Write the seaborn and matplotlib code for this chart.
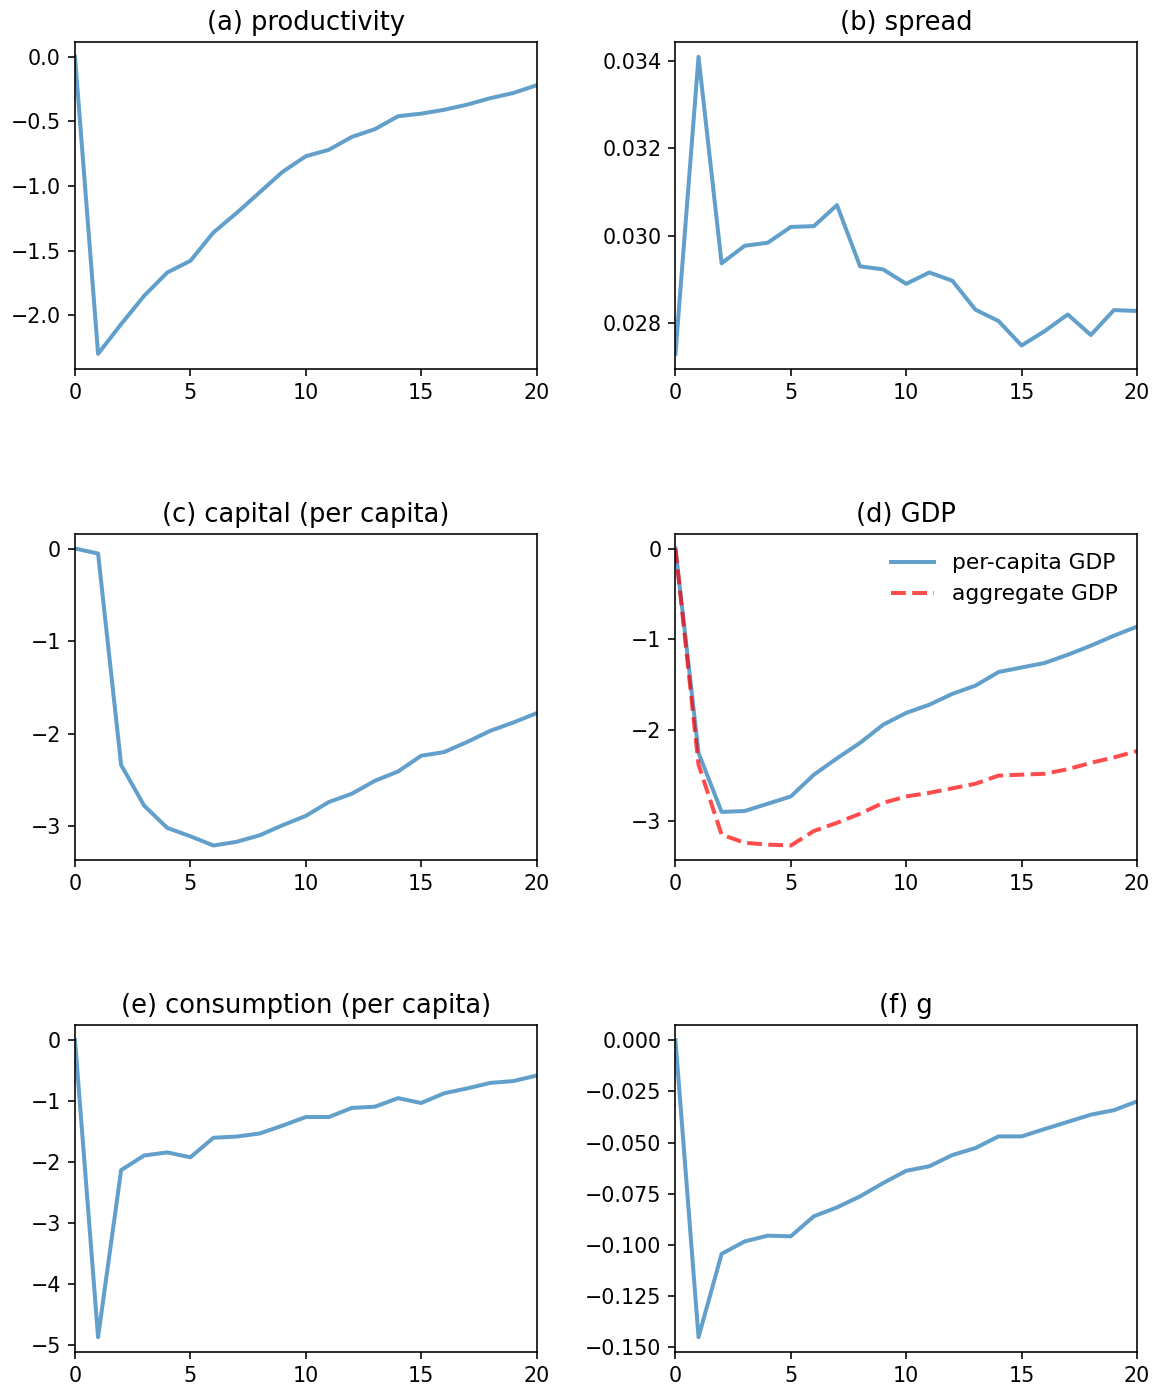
import numpy as np
import pandas as pd
import matplotlib
matplotlib.use("Agg")
import matplotlib.pyplot as plt
from matplotlib.ticker import MultipleLocator
import seaborn as sns

periods = list(range(21))

productivity = [0.0, -2.30, -2.07, -1.85, -1.67, -1.58, -1.36, -1.21, -1.05, -0.89, -0.77,
                -0.72, -0.62, -0.56, -0.46, -0.44, -0.41, -0.37, -0.32, -0.28, -0.22]
spread = [0.02730, 0.03409, 0.02937, 0.02977, 0.02984, 0.03020, 0.03022, 0.03070, 0.02930,
          0.02923, 0.02890, 0.02916, 0.02897, 0.02831, 0.02805, 0.02749, 0.02782, 0.02820,
          0.02773, 0.02830, 0.02828]
capital = [0.0, -0.054, -2.34, -2.78, -3.02, -3.11, -3.21, -3.17, -3.10, -2.99, -2.89,
           -2.74, -2.65, -2.51, -2.41, -2.24, -2.20, -2.09, -1.97, -1.88, -1.78]
gdp_per_capita = [0.0, -2.25, -2.90, -2.89, -2.81, -2.73, -2.49, -2.31, -2.14, -1.94, -1.81,
                  -1.72, -1.60, -1.51, -1.36, -1.31, -1.26, -1.17, -1.07, -0.96, -0.86]
gdp_aggregate = [0.0, -2.38, -3.15, -3.24, -3.26, -3.27, -3.11, -3.02, -2.92, -2.80, -2.73,
                 -2.69, -2.64, -2.59, -2.50, -2.49, -2.48, -2.43, -2.36, -2.30, -2.23]
consumption = [0.0, -4.87, -2.13, -1.89, -1.84, -1.92, -1.60, -1.58, -1.53, -1.40, -1.26,
               -1.26, -1.11, -1.09, -0.95, -1.03, -0.87, -0.79, -0.70, -0.67, -0.58]
g_series = [0.0, -0.1451, -0.1044, -0.0983, -0.0955, -0.0958, -0.0860, -0.0817, -0.0763,
            -0.0698, -0.0638, -0.0616, -0.0561, -0.0527, -0.0470, -0.0470, -0.0434, -0.0399,
            -0.0364, -0.0342, -0.0299]

titles = ["(a) productivity", "(b) spread", "(c) capital (per capita)", "(d) GDP",
          "(e) consumption (per capita)", "(f) g"]
legend_labels = ["per-capita GDP", "aggregate GDP"]
y_steps = [0.5, 0.002, 1, 1, 1, 0.025]

fig, axes = plt.subplots(3, 2, figsize=(1159 / 144, 1390 / 144), dpi=144)
fig.subplots_adjust(left=0.0647, right=0.981, top=0.9698, bottom=0.0273,
                    wspace=0.301, hspace=0.505)

series_list = [productivity, spread, capital, None, consumption, g_series]
for ax, title, ser, step in zip(axes.flat, titles, series_list, y_steps):
    if ser is not None:
        sns.lineplot(x=periods, y=ser, ax=ax, color="C0", alpha=0.7, lw=2)
    else:
        sns.lineplot(x=periods, y=gdp_per_capita, ax=ax, color="C0", alpha=0.7, lw=2,
                     label=legend_labels[0])
        sns.lineplot(x=periods, y=gdp_aggregate, ax=ax, color="red", alpha=0.7, lw=2,
                     ls="--", label=legend_labels[1])
        ax.legend(loc="upper right", frameon=False, fontsize=10.9)
    ax.set_title(title, fontsize=12.9)
    ax.set_xlim(0, 20)
    ax.set_xticks([0, 5, 10, 15, 20])
    ax.yaxis.set_major_locator(MultipleLocator(step))
    ax.tick_params(labelsize=10.3)

fig.savefig("out.png", dpi=144)
